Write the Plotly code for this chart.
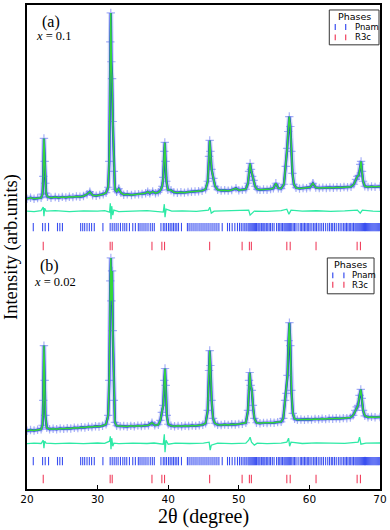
import plotly.graph_objects as go

# ---------------- data (2theta in degrees, intensity in arb. units) ----------------
two_theta_a = [20.0,20.5,21.0,21.5,22.0,22.2,22.3,22.4,22.5,22.6,22.7,22.9,23.4,24.0,24.5,25.0,25.5,26.0,26.5,27.0,27.5,28.0,28.5,28.9,29.3,29.8,30.3,30.8,31.2,31.5,31.65,31.8,31.87,31.95,32.05,32.15,32.3,32.45,32.7,33.0,33.3,33.7,34.2,34.8,35.3,35.8,36.3,36.8,37.1,37.4,37.8,38.2,38.6,38.9,39.15,39.3,39.45,39.52,39.62,39.75,39.95,40.4,40.8,41.3,41.8,42.3,42.8,43.3,43.8,44.3,44.8,45.3,45.6,45.78,45.88,45.98,46.15,46.4,46.65,47.0,47.5,48.0,48.5,49.0,49.6,50.0,50.5,51.0,51.3,51.45,51.6,51.72,51.9,52.1,52.3,52.6,53.0,53.5,54.0,54.5,54.9,55.25,55.6,56.0,56.4,56.65,56.85,57.0,57.15,57.3,57.45,57.6,57.8,58.1,58.6,59.1,59.6,60.1,60.5,60.9,61.4,61.9,62.4,62.9,63.4,63.9,64.4,64.9,65.4,65.9,66.3,66.6,66.8,67.0,67.2,67.32,67.45,67.6,67.85,68.3,68.8,69.3,70.0]
obs_a = [291.5,292.5,291.5,292.2,292.5,296,314,352,329,307,297,293.5,292.5,293.2,292.5,293.3,292.7,293.5,293.1,293.8,293.4,294.2,296,298.5,295,294.5,295.2,296,297.5,303,329,449,478,429,412,369,319,301,298.5,301.5,297.5,295.5,296,295.2,295.8,296,296.2,297,298.5,296.8,298.7,297,298,300,304,313,339,348,329,309,300.5,300,298,297.5,298,297.6,298.2,298.5,298.8,299,299.5,301,309,334,350,339,321,312,304,300.5,299.8,300,299.6,300.2,302,300,300.4,301,307,319,327,321,314,310,304,301,300.4,300.8,300.5,301.2,302,307,302,301.7,306,324,342,359,374,364,339,317,306,302.5,301.8,302.2,302,303,307,302.7,302.2,302.6,302.3,302.7,302.5,303,302.7,303.2,303,303.5,306,311,314,315,326,329,319,309,304,303.2,303.7,303.4,303.8]
diff_theta_a = [20,21,22,22.3,22.4,22.5,22.7,24,26,28,30,31,31.7,31.8,31.9,32.0,32.15,32.3,33,35,37,39.3,39.45,39.55,39.7,40.5,42,44,45.7,45.9,46.1,46.5,48,50,51.4,51.6,51.8,52.2,54,56,56.8,57.1,57.4,59,61,63,65,66.8,67.2,67.5,69,70]
diff_a = [279,278.5,279.5,283,274,282,279,279.5,278.5,279.2,279,279.5,278,287,271,284,275,280,278.5,279,279.5,278,286,273,281,279,279.2,278.7,280,283,277,279,279.3,279,280,275,276.5,279,278.8,279.5,281,276,280,279,279.4,278.7,279.2,280,277,280,279,278.8]

two_theta_b = [20.0,20.5,21.0,21.5,22.0,22.2,22.3,22.4,22.5,22.6,22.8,23.2,23.7,24.2,24.7,25.2,25.7,26.2,26.7,27.2,27.7,28.2,28.7,29.2,29.7,30.2,30.7,31.2,31.5,31.65,31.8,31.88,31.95,32.05,32.15,32.3,32.45,32.7,33.2,33.7,34.2,34.7,35.2,35.7,36.2,36.7,37.2,37.7,38.1,38.6,38.9,39.1,39.3,39.45,39.55,39.65,39.8,40.0,40.4,40.9,41.4,41.9,42.4,42.9,43.4,43.9,44.4,44.9,45.3,45.6,45.78,45.88,45.98,46.15,46.35,46.6,47.0,47.5,48.0,48.5,49.0,49.5,50.0,50.5,51.0,51.3,51.45,51.55,51.68,51.85,52.0,52.2,52.5,53.0,53.5,54.0,54.5,55.0,55.5,56.0,56.3,56.55,56.75,56.9,57.05,57.17,57.3,57.45,57.65,57.9,58.3,58.8,59.3,59.8,60.3,60.8,61.3,61.8,62.3,62.8,63.3,63.8,64.3,64.8,65.3,65.8,66.2,66.5,66.7,66.9,67.1,67.28,67.42,67.6,67.85,68.3,68.8,69.3,70.0]
obs_b = [58.5,59.2,58.7,59.5,60,64,89,144,109,74,61.5,60,60.5,60,60.8,60.4,61,60.7,61.5,61.2,62,61.7,62.5,62.2,63,62.7,63.5,65,74,109,209,232,189,219,159,89,67,63.5,63,63.2,62.7,63.4,63,63.6,63.2,63.8,64,66.5,64,64.5,69,77,84,109,121,104,74,65,63.5,63,63.4,63,63.5,63.2,63.7,63.4,64,64.5,66,79,119,139,124,89,71,66,64.5,64.2,64.7,64.4,65,64.7,65.2,65.5,66.5,79,109,117,104,99,84,71,66.5,66,66.4,66.2,66.7,66.5,67.2,67.5,71,89,96,114,149,167,144,99,76,70.5,69.5,69.8,69.4,70,69.7,70.4,70,70.5,70.2,70.8,70.5,71,70.7,71.2,71,71.7,74,79,82.5,84,94,100,91,79,73.5,72,72.4,72,72.3]
diff_theta_b = [20,21,22,22.3,22.4,22.5,22.7,24,26,28,30,31,31.7,31.8,31.9,32.0,32.15,32.3,33,35,37,38,39.3,39.45,39.55,39.7,40,41,43,45,45.8,45.95,46.1,47,49,51,51.4,51.6,51.8,52.2,52.6,54,56,56.8,57.05,57.2,57.4,59,61,63,65,66.9,67.1,67.3,68,70]
diff_b = [45.5,46,45.7,49,41,48,46,45.5,46,45.6,46.2,45.8,48,53,40,51,43,46,45.5,46,45.7,46.2,45,55,37,49,45,46,45.7,46,47,39,44,46,45.6,46,49,52,47,44,46,45.5,46,47,51,43,47,45.7,46.4,46,45.8,47,52,45,46,46.2]

pnam_ticks = [20.89,22.21,22.58,23.05,24.32,24.65,25.02,27.6,27.89,28.17,28.5,28.83,29.15,29.53,30.75,31.78,32.07,32.35,32.63,32.91,33.24,33.57,33.85,34.13,34.51,34.98,35.35,35.77,36.01,36.29,36.57,36.85,37.14,37.46,37.75,38.03,38.97,39.3,39.53,39.77,40.05,40.28,40.52,40.75,40.99,41.22,41.46,41.88,42.72,42.96,43.24,43.52,43.8,44.08,44.37,44.65,44.93,45.21,45.49,45.77,46.06,46.34,46.62,46.9,47.18,47.65,48.4,48.69,49.06,49.44,49.81,50.1,50.35,50.6,50.85,51.05,51.3,51.45,51.6,51.75,51.9,52.05,52.2,52.35,52.5,52.7,52.85,53.0,53.2,53.4,53.55,53.7,53.9,54.1,54.3,54.5,54.75,55.0,55.35,55.6,55.8,56.0,56.2,56.4,56.55,56.7,56.85,57.0,57.15,57.3,57.5,57.7,57.9,58.1,58.4,58.7,58.9,59.1,59.3,59.5,59.7,59.9,60.1,60.35,60.6,60.8,61.0,61.25,61.5,61.75,62.0,62.3,62.6,62.85,63.1,63.3,63.55,63.8,64.1,64.35,64.6,64.85,65.05,65.25,65.45,65.65,65.85,66.05,66.25,66.45,66.6,66.75,66.9,67.05,67.2,67.35,67.5,67.65,67.8,67.95,68.1,68.25,68.4,68.55,68.7,68.85,69.0,69.15,69.3,69.45,69.6,69.75,69.9]
r3c_ticks = [22.3,31.78,32.07,37.7,39.1,39.48,45.87,50.47,51.5,51.78,56.8,57.28,60.94,66.76,67.23]

tick_level_pnam_a = 263
tick_level_r3c_a = 244
tick_level_pnam_b = 28
tick_level_r3c_b = 10

x_tick_vals = [20, 30, 40, 50, 60, 70]
panel_labels = ["(a)", "(b)"]
composition_labels = ["<i>x</i> = 0.1", "<i>x</i> = 0.02"]
phase_names = ["Pnam", "R3c"]

# ---------------- styling ----------------
BLUE_CORE = "#1f33e4"
BLUE_HALO = "rgba(95,115,245,0.28)"
BLUE_MARK = "rgba(80,100,240,0.5)"
GREEN = "#33d63c"
DIFF = "#2eeaa6"
PNAM_C = "#3a4ff0"
R3C_C = "#f0405e"

fig = go.Figure()

def add_pattern(tt, obs, dtt, diff):
    fig.add_trace(go.Scatter(x=tt, y=obs, mode="lines",
                             line=dict(color=BLUE_HALO, width=5), hoverinfo="skip", showlegend=False))
    fig.add_trace(go.Scatter(x=tt, y=obs, mode="lines",
                             line=dict(color=BLUE_CORE, width=2.4), showlegend=False))
    fig.add_trace(go.Scatter(x=tt, y=obs, mode="markers",
                             marker=dict(symbol="cross-thin", size=6,
                                         line=dict(color=BLUE_MARK, width=1.2)),
                             showlegend=False))
    fig.add_trace(go.Scatter(x=tt, y=obs, mode="lines",
                             line=dict(color=GREEN, width=1.5), showlegend=False))
    fig.add_trace(go.Scatter(x=dtt, y=diff, mode="lines",
                             line=dict(color=DIFF, width=1.3), showlegend=False))

add_pattern(two_theta_a, obs_a, diff_theta_a, diff_a)
add_pattern(two_theta_b, obs_b, diff_theta_b, diff_b)

for ticks, level, col in [(pnam_ticks, tick_level_pnam_a, PNAM_C),
                          (r3c_ticks, tick_level_r3c_a, R3C_C),
                          (pnam_ticks, tick_level_pnam_b, PNAM_C),
                          (r3c_ticks, tick_level_r3c_b, R3C_C)]:
    fig.add_trace(go.Scatter(x=ticks, y=[level] * len(ticks), mode="markers",
                             marker=dict(symbol="line-ns", size=6,
                                         line=dict(color=col, width=1.1)),
                             showlegend=False))

# ---------------- layout ----------------
L, R, T, B = 27, 8, 3, 41
W, H = 390, 530
PW, PH = W - L - R, H - T - B

def px(xp):
    return (xp - L) / PW

def py(yp):
    return (H - B - yp) / PH

shapes = []
annotations = []

serif = "Liberation Serif, Times New Roman, serif"
sans = "DejaVu Sans, Arial, sans-serif"

# panel labels
for lab, comp, (lx, ly), (cx, cy) in zip(panel_labels, composition_labels,
                                        [(51, 20), (50, 265)], [(54, 34), (55, 281)]):
    annotations.append(dict(x=px(lx), y=py(ly), xref="paper", yref="paper", text=lab,
                            showarrow=False, font=dict(family=serif, size=16, color="black"),
                            xanchor="center", yanchor="middle"))
    annotations.append(dict(x=px(cx), y=py(cy), xref="paper", yref="paper", text=comp,
                            showarrow=False, font=dict(family=serif, size=12.5, color="black"),
                            xanchor="center", yanchor="middle"))

# legend boxes
for (x0, y0, x1, y1), tx1, tx2, rows, textx in [
        ((331, 8, 381, 43), 337, 347.5, (25, 35.5), 355),
        ((329, 257, 376, 293), 334.5, 345.7, (274.5, 284), 352)]:
    shapes.append(dict(type="rect", xref="paper", yref="paper",
                       x0=px(x0), x1=px(x1), y0=py(y1), y1=py(y0),
                       line=dict(color="#333333", width=1), fillcolor="white", layer="above"))
    annotations.append(dict(x=px((x0 + x1) / 2), y=py(y0 + 7), xref="paper", yref="paper",
                            text="Phases", showarrow=False,
                            font=dict(family=sans, size=9.5, color="black"),
                            xanchor="center", yanchor="middle"))
    for name, ry, col in zip(phase_names, rows, [PNAM_C, R3C_C]):
        for tx in (tx1, tx2):
            shapes.append(dict(type="line", xref="paper", yref="paper",
                               x0=px(tx), x1=px(tx), y0=py(ry + 3), y1=py(ry - 3),
                               line=dict(color=col, width=1.2), layer="above"))
        annotations.append(dict(x=px(textx), y=py(ry), xref="paper", yref="paper",
                                text=name, showarrow=False,
                                font=dict(family=sans, size=8.5, color="black"),
                                xanchor="left", yanchor="middle"))

fig.update_layout(
    width=W, height=H,
    margin=dict(l=L, r=R, t=T, b=B),
    paper_bgcolor="white", plot_bgcolor="white",
    showlegend=False,
    shapes=shapes, annotations=annotations,
    xaxis=dict(range=[20, 70], tickvals=x_tick_vals, ticks="inside", ticklen=4,
               tickwidth=1, tickcolor="black", showgrid=False, zeroline=False,
               showline=True, linecolor="black", linewidth=1.6, mirror=True,
               tickfont=dict(family=sans, size=10.5, color="black"),
               title=dict(text="2θ (degree)", font=dict(family=serif, size=20, color="black"),
                          standoff=3)),
    yaxis=dict(range=[0, PH], showticklabels=False, ticks="", showgrid=False,
               zeroline=False, showline=True, linecolor="black", linewidth=1.6, mirror=True,
               title=dict(text="Intensity (arb.units)",
                          font=dict(family=serif, size=18.5, color="black"), standoff=3)),
)

fig.write_html("out.html", config={"displayModeBar": False},
               post_script="document.body.style.margin='0';document.body.style.overflow='hidden';")
